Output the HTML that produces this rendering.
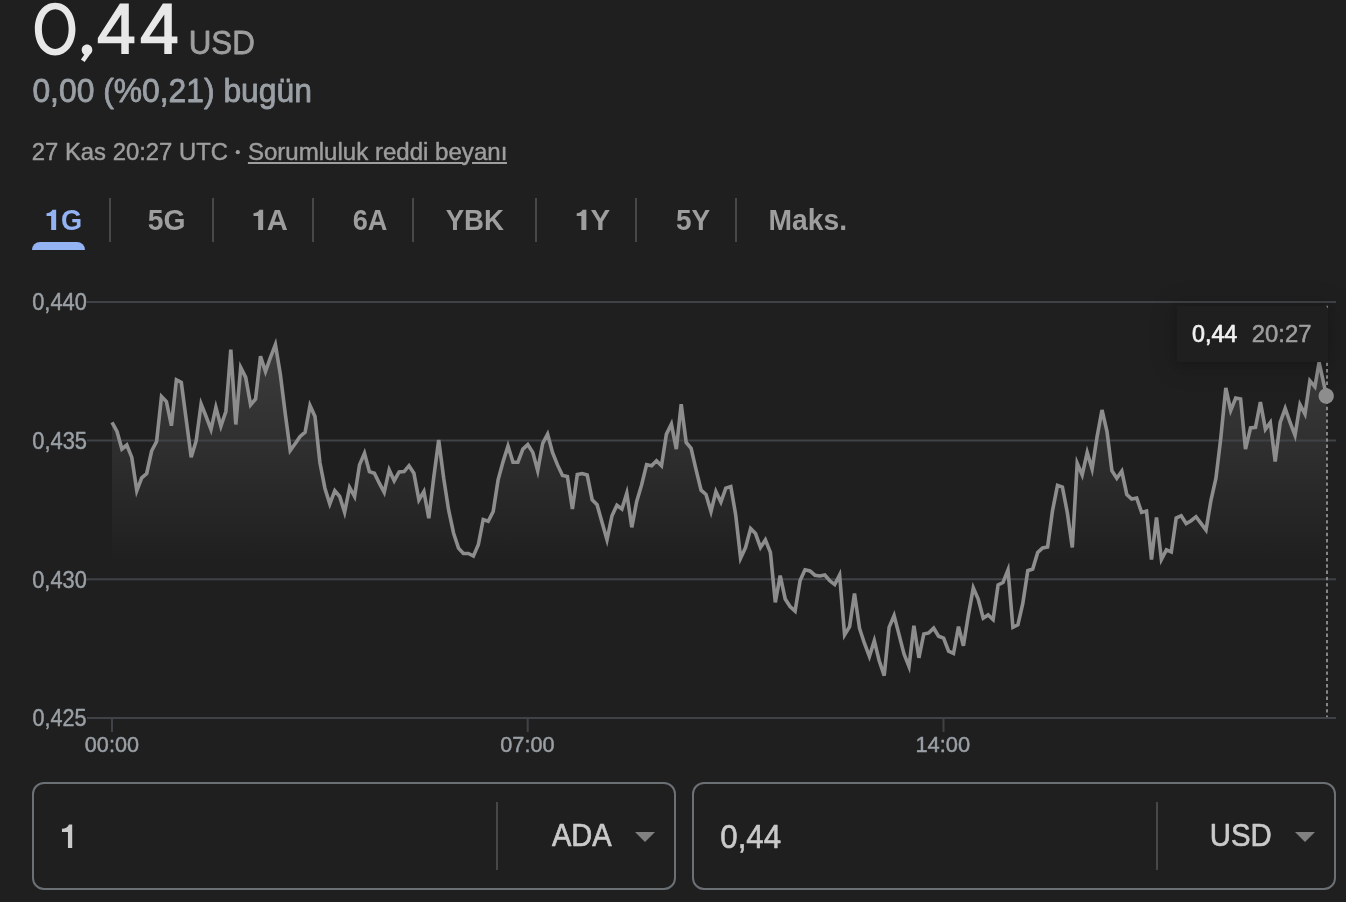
<!DOCTYPE html>
<html lang="tr">
<head>
<meta charset="utf-8">
<title>ADA / USD</title>
<style>
  html, body { margin: 0; padding: 0; }
  body {
    width: 1346px; height: 902px; overflow: hidden; position: relative;
    background: #1f1f1f; color: #9aa0a6;
    font-family: "Liberation Sans", sans-serif;
  }
  .sep { position: absolute; top: 198px; width: 2px; height: 44px; background: #484848; }
  #bar { position: absolute; left: 32px; top: 242px; width: 53px; height: 8px; background: #93b3f2; border-radius: 8px 8px 0 0; }
  #tip { position: absolute; left: 1176.5px; top: 306px; width: 151.5px; height: 55.8px; background: #1f1f1f; box-shadow: 0 2px 24px 5px rgba(0,0,0,0.14), 0 1px 7px 0 rgba(0,0,0,0.12); }
  .box { position: absolute; top: 782px; height: 104px; width: 640px; border: 2px solid #6b7075; border-radius: 12px; }
  .d { position: absolute; top: 802px; width: 2px; height: 68px; background: #484848; }
  .tri { position: absolute; top: 832px; width: 0; height: 0; border-left: 10px solid transparent; border-right: 10px solid transparent; border-top: 10.5px solid #808080; }
</style>
</head>
<body>
  <div id="bar"></div>
  <div class="sep" style="left:109px"></div><div class="sep" style="left:212px"></div><div class="sep" style="left:312px"></div><div class="sep" style="left:412px"></div><div class="sep" style="left:535px"></div><div class="sep" style="left:635px"></div><div class="sep" style="left:735px"></div>
  <svg id="chart" style="position:absolute;left:0;top:0" width="1346" height="902" viewBox="0 0 1346 902">
    <defs>
      <linearGradient id="g" x1="0" y1="340" x2="0" y2="565" gradientUnits="userSpaceOnUse">
        <stop offset="0" stop-color="#ffffff" stop-opacity="0.135"/>
        <stop offset="1" stop-color="#ffffff" stop-opacity="0"/>
      </linearGradient>
    </defs>
    <path d="M112.0 422.3 L117.0 431.5 L121.9 449.0 L126.8 445.0 L131.8 457.4 L136.8 490.7 L141.7 477.9 L146.7 473.5 L151.6 451.0 L156.6 441.5 L161.5 396.6 L166.4 401.6 L171.4 425.7 L176.4 379.9 L181.3 382.4 L186.2 419.5 L191.2 457.3 L196.2 440.7 L201.1 404.0 L206.1 416.5 L211.0 429.5 L215.9 407.4 L220.9 426.2 L225.9 411.5 L230.8 349.6 L235.8 424.5 L240.7 367.4 L245.7 377.4 L250.6 404.9 L255.6 399.0 L260.5 356.3 L265.5 371.6 L270.4 357.5 L275.4 344.6 L280.3 374.1 L285.2 413.2 L290.2 450.6 L295.1 443.7 L300.1 436.4 L305.1 432.2 L310.0 405.5 L315.0 416.5 L319.9 462.5 L324.9 488.2 L329.8 504.0 L334.8 490.7 L339.7 496.5 L344.6 512.3 L349.6 487.4 L354.6 496.5 L359.5 464.9 L364.5 453.3 L369.4 471.6 L374.4 473.2 L379.3 483.2 L384.2 492.4 L389.2 469.9 L394.2 480.7 L399.1 471.9 L404.1 471.6 L409.0 465.7 L413.9 473.2 L418.9 499.9 L423.9 491.5 L428.8 518.2 L433.8 477.0 L438.7 440.0 L443.7 478.2 L448.6 509.9 L453.6 533.2 L458.5 548.1 L463.4 553.5 L468.4 553.5 L473.4 556.1 L478.3 544.8 L483.2 519.5 L488.2 521.2 L493.2 511.5 L498.1 479.9 L503.1 461.6 L508.0 446.0 L513.0 462.2 L517.9 462.2 L522.9 449.1 L527.8 444.6 L532.8 452.4 L537.7 470.7 L542.7 443.3 L547.6 434.1 L552.5 452.4 L557.5 464.9 L562.5 475.4 L567.4 476.5 L572.4 509.0 L577.3 474.5 L582.2 473.5 L587.2 474.9 L592.2 499.8 L597.1 504.8 L602.0 522.3 L607.0 539.8 L612.0 515.7 L616.9 505.2 L621.9 509.0 L626.8 493.2 L631.8 527.3 L636.7 501.5 L641.6 484.9 L646.6 464.6 L651.6 465.7 L656.5 460.7 L661.5 465.7 L666.4 434.1 L671.4 424.1 L676.3 449.1 L681.2 404.2 L686.2 442.4 L691.1 448.3 L696.1 469.9 L701.1 490.2 L706.0 494.5 L711.0 511.5 L715.9 491.5 L720.9 502.0 L725.8 488.1 L730.8 486.5 L735.7 514.9 L740.6 558.2 L745.6 547.4 L750.6 528.6 L755.5 533.6 L760.5 547.4 L765.4 539.9 L770.4 552.4 L775.3 602.3 L780.2 575.7 L785.2 599.0 L790.1 606.5 L795.1 611.1 L800.1 580.5 L805.0 569.8 L810.0 571.0 L814.9 575.2 L819.9 576.0 L824.8 575.0 L829.8 580.8 L834.7 584.6 L839.6 575.0 L844.6 634.9 L849.6 626.6 L854.5 593.4 L859.5 628.2 L864.4 643.2 L869.4 656.5 L874.3 640.7 L879.2 660.7 L884.2 675.6 L889.1 627.4 L894.1 615.5 L899.1 634.9 L904.0 654.0 L909.0 666.5 L913.9 625.7 L918.9 657.8 L923.8 634.0 L928.8 632.9 L933.7 628.2 L938.6 636.2 L943.6 638.2 L948.6 651.2 L953.5 653.5 L958.5 626.6 L963.4 645.7 L968.4 614.9 L973.3 587.9 L978.2 599.1 L983.2 618.2 L988.1 614.9 L993.1 619.6 L998.1 584.9 L1003.0 582.5 L1008.0 570.0 L1012.9 627.3 L1017.9 624.8 L1022.8 603.5 L1027.8 570.7 L1032.7 569.0 L1037.7 552.4 L1042.6 547.9 L1047.6 546.9 L1052.5 510.8 L1057.5 485.3 L1062.4 487.0 L1067.3 512.5 L1072.3 547.4 L1077.2 463.2 L1082.2 474.9 L1087.2 452.4 L1092.1 469.0 L1097.1 436.6 L1102.0 410.0 L1107.0 431.6 L1111.9 470.7 L1116.8 478.2 L1121.8 471.2 L1126.8 494.5 L1131.7 499.0 L1136.7 498.0 L1141.6 512.4 L1146.5 511.0 L1151.5 559.5 L1156.5 517.4 L1161.4 559.5 L1166.4 549.9 L1171.3 551.9 L1176.2 518.0 L1181.2 515.7 L1186.2 523.5 L1191.1 520.7 L1196.0 516.7 L1201.0 523.3 L1206.0 530.0 L1210.9 500.5 L1215.9 478.5 L1220.8 438.0 L1225.8 388.0 L1230.7 410.5 L1235.7 398.0 L1240.6 399.0 L1245.5 449.0 L1250.5 428.0 L1255.5 427.4 L1260.4 402.0 L1265.4 429.2 L1270.3 422.4 L1275.2 461.5 L1280.2 422.5 L1285.2 408.4 L1290.1 422.5 L1295.0 435.3 L1300.0 404.6 L1305.0 414.1 L1309.9 380.7 L1314.9 386.8 L1319.1 362.3 L1326.5 396.0 L1326.5 718 L112 718 Z" fill="url(#g)" stroke="none"/>
    <g stroke="#3f4347" stroke-width="2">
      <line x1="87" y1="301.9" x2="1336" y2="301.9"/>
      <line x1="87" y1="440.6" x2="1336" y2="440.6"/>
      <line x1="87" y1="579.3" x2="1336" y2="579.3"/>
      <line x1="87" y1="718" x2="1336" y2="718"/>
      <line x1="112" y1="718" x2="112" y2="732"/>
      <line x1="527.7" y1="718" x2="527.7" y2="732"/>
      <line x1="943.5" y1="718" x2="943.5" y2="732"/>
    </g>
    <path d="M112.0 422.3 L117.0 431.5 L121.9 449.0 L126.8 445.0 L131.8 457.4 L136.8 490.7 L141.7 477.9 L146.7 473.5 L151.6 451.0 L156.6 441.5 L161.5 396.6 L166.4 401.6 L171.4 425.7 L176.4 379.9 L181.3 382.4 L186.2 419.5 L191.2 457.3 L196.2 440.7 L201.1 404.0 L206.1 416.5 L211.0 429.5 L215.9 407.4 L220.9 426.2 L225.9 411.5 L230.8 349.6 L235.8 424.5 L240.7 367.4 L245.7 377.4 L250.6 404.9 L255.6 399.0 L260.5 356.3 L265.5 371.6 L270.4 357.5 L275.4 344.6 L280.3 374.1 L285.2 413.2 L290.2 450.6 L295.1 443.7 L300.1 436.4 L305.1 432.2 L310.0 405.5 L315.0 416.5 L319.9 462.5 L324.9 488.2 L329.8 504.0 L334.8 490.7 L339.7 496.5 L344.6 512.3 L349.6 487.4 L354.6 496.5 L359.5 464.9 L364.5 453.3 L369.4 471.6 L374.4 473.2 L379.3 483.2 L384.2 492.4 L389.2 469.9 L394.2 480.7 L399.1 471.9 L404.1 471.6 L409.0 465.7 L413.9 473.2 L418.9 499.9 L423.9 491.5 L428.8 518.2 L433.8 477.0 L438.7 440.0 L443.7 478.2 L448.6 509.9 L453.6 533.2 L458.5 548.1 L463.4 553.5 L468.4 553.5 L473.4 556.1 L478.3 544.8 L483.2 519.5 L488.2 521.2 L493.2 511.5 L498.1 479.9 L503.1 461.6 L508.0 446.0 L513.0 462.2 L517.9 462.2 L522.9 449.1 L527.8 444.6 L532.8 452.4 L537.7 470.7 L542.7 443.3 L547.6 434.1 L552.5 452.4 L557.5 464.9 L562.5 475.4 L567.4 476.5 L572.4 509.0 L577.3 474.5 L582.2 473.5 L587.2 474.9 L592.2 499.8 L597.1 504.8 L602.0 522.3 L607.0 539.8 L612.0 515.7 L616.9 505.2 L621.9 509.0 L626.8 493.2 L631.8 527.3 L636.7 501.5 L641.6 484.9 L646.6 464.6 L651.6 465.7 L656.5 460.7 L661.5 465.7 L666.4 434.1 L671.4 424.1 L676.3 449.1 L681.2 404.2 L686.2 442.4 L691.1 448.3 L696.1 469.9 L701.1 490.2 L706.0 494.5 L711.0 511.5 L715.9 491.5 L720.9 502.0 L725.8 488.1 L730.8 486.5 L735.7 514.9 L740.6 558.2 L745.6 547.4 L750.6 528.6 L755.5 533.6 L760.5 547.4 L765.4 539.9 L770.4 552.4 L775.3 602.3 L780.2 575.7 L785.2 599.0 L790.1 606.5 L795.1 611.1 L800.1 580.5 L805.0 569.8 L810.0 571.0 L814.9 575.2 L819.9 576.0 L824.8 575.0 L829.8 580.8 L834.7 584.6 L839.6 575.0 L844.6 634.9 L849.6 626.6 L854.5 593.4 L859.5 628.2 L864.4 643.2 L869.4 656.5 L874.3 640.7 L879.2 660.7 L884.2 675.6 L889.1 627.4 L894.1 615.5 L899.1 634.9 L904.0 654.0 L909.0 666.5 L913.9 625.7 L918.9 657.8 L923.8 634.0 L928.8 632.9 L933.7 628.2 L938.6 636.2 L943.6 638.2 L948.6 651.2 L953.5 653.5 L958.5 626.6 L963.4 645.7 L968.4 614.9 L973.3 587.9 L978.2 599.1 L983.2 618.2 L988.1 614.9 L993.1 619.6 L998.1 584.9 L1003.0 582.5 L1008.0 570.0 L1012.9 627.3 L1017.9 624.8 L1022.8 603.5 L1027.8 570.7 L1032.7 569.0 L1037.7 552.4 L1042.6 547.9 L1047.6 546.9 L1052.5 510.8 L1057.5 485.3 L1062.4 487.0 L1067.3 512.5 L1072.3 547.4 L1077.2 463.2 L1082.2 474.9 L1087.2 452.4 L1092.1 469.0 L1097.1 436.6 L1102.0 410.0 L1107.0 431.6 L1111.9 470.7 L1116.8 478.2 L1121.8 471.2 L1126.8 494.5 L1131.7 499.0 L1136.7 498.0 L1141.6 512.4 L1146.5 511.0 L1151.5 559.5 L1156.5 517.4 L1161.4 559.5 L1166.4 549.9 L1171.3 551.9 L1176.2 518.0 L1181.2 515.7 L1186.2 523.5 L1191.1 520.7 L1196.0 516.7 L1201.0 523.3 L1206.0 530.0 L1210.9 500.5 L1215.9 478.5 L1220.8 438.0 L1225.8 388.0 L1230.7 410.5 L1235.7 398.0 L1240.6 399.0 L1245.5 449.0 L1250.5 428.0 L1255.5 427.4 L1260.4 402.0 L1265.4 429.2 L1270.3 422.4 L1275.2 461.5 L1280.2 422.5 L1285.2 408.4 L1290.1 422.5 L1295.0 435.3 L1300.0 404.6 L1305.0 414.1 L1309.9 380.7 L1314.9 386.8 L1319.1 362.3 L1326.5 396.0" fill="none" stroke="#8d8d8d" stroke-width="3.6" stroke-linejoin="miter" stroke-miterlimit="4.6" stroke-linecap="butt"/>
    <line x1="1327" y1="306" x2="1327" y2="717" stroke="#8c8c8c" stroke-width="1.9" stroke-dasharray="3.4 2.9"/>
    <circle cx="1326.2" cy="396" r="7.7" fill="#8d8d8d"/>
  </svg>
  <div id="tip"></div>
  <div class="box" style="left:32px"></div>
  <div class="box" style="left:692px"></div>
  <div class="d" style="left:496px"></div>
  <div class="d" style="left:1156px"></div>
  <div class="tri" style="left:635px"></div>
  <div class="tri" style="left:1295px"></div>
  <svg id="txt" style="position:absolute;left:0;top:0;will-change:transform" width="1346" height="902" viewBox="0 0 1346 902" font-family="Liberation Sans, sans-serif">
    <path fill="#e8e8e8" fill-rule="evenodd" d="M34.85 29.10 C34.85 13.79 43.38 2.70 55.15 2.70 C66.92 2.70 75.45 13.79 75.45 29.10 C75.45 44.41 66.92 55.50 55.15 55.50 C43.38 55.50 34.85 44.41 34.85 29.10Z M41.85 29.10 C41.85 17.62 47.48 9.30 55.25 9.30 C63.02 9.30 68.65 17.62 68.65 29.10 C68.65 40.58 63.02 48.90 55.25 48.90 C47.48 48.90 41.85 40.58 41.85 29.10Z"/>
  <path fill="#e8e8e8" fill-rule="nonzero" d="M81.70 49.90 C81.70 46.97 84.07 44.60 87.00 44.60 C89.93 44.60 92.30 46.97 92.30 49.90 C92.30 52.83 89.93 55.20 87.00 55.20 C84.07 55.20 81.70 52.83 81.70 49.90Z M92.1 51.4 L84.6 62.1 L80.9 59.5 L85.6 53.0Z"/>
  <path fill="#e8e8e8" fill-rule="evenodd" d="M119.90 3.50 L128.80 3.50 L128.80 36.60 L134.40 36.60 L134.40 43.30 L128.80 43.30 L128.80 54.10 L121.30 54.10 L121.30 43.30 L97.80 43.30 L97.80 37.90Z M121.30 14.40 L121.30 36.60 L106.30 36.60Z M162.90 3.50 L171.80 3.50 L171.80 36.60 L177.40 36.60 L177.40 43.30 L171.80 43.30 L171.80 54.10 L164.30 54.10 L164.30 43.30 L140.80 43.30 L140.80 37.90Z M164.30 14.40 L164.30 36.60 L149.30 36.60Z"/>
  <text transform="translate(188.70 53.70) scale(0.9519 1.0000)" font-size="32.90" fill="#9e9e9e" stroke="#9e9e9e" stroke-width="0.8" stroke-linejoin="round">USD</text>
  <text transform="translate(32.40 101.90) scale(0.9646 1.0000)" font-size="33.00" fill="#9aa0a6" stroke="#9aa0a6" stroke-width="0.8" stroke-linejoin="round">0,00 (%0,21) bugün</text>
  <text transform="translate(147.81 230.10) scale(0.9494 1.0000)" font-size="29.80" fill="#9e9e9e" font-weight="bold">5G</text>
  <text transform="translate(352.68 230.10) scale(0.9124 1.0000)" font-size="29.80" fill="#9e9e9e" font-weight="bold">6A</text>
  <text transform="translate(445.63 230.10) scale(0.9273 1.0000)" font-size="29.80" fill="#9e9e9e" font-weight="bold">YBK</text>
  <text transform="translate(676.03 230.10) scale(0.9388 1.0000)" font-size="29.80" fill="#9e9e9e" font-weight="bold">5Y</text>
  <text transform="translate(768.48 230.10) scale(0.9484 1.0000)" font-size="29.80" fill="#9e9e9e" font-weight="bold">Maks.</text>
  <text transform="translate(32.20 310.20) scale(0.9490 1.0000)" font-size="23.00" fill="#9aa0a6" stroke="#9aa0a6" stroke-width="0.45" stroke-linejoin="round">0,440</text>
  <text transform="translate(32.20 448.90) scale(0.9526 1.0000)" font-size="23.00" fill="#9aa0a6" stroke="#9aa0a6" stroke-width="0.45" stroke-linejoin="round">0,435</text>
  <text transform="translate(32.20 587.60) scale(0.9490 1.0000)" font-size="23.00" fill="#9aa0a6" stroke="#9aa0a6" stroke-width="0.45" stroke-linejoin="round">0,430</text>
  <text transform="translate(32.50 726.30) scale(0.9383 1.0000)" font-size="23.00" fill="#9aa0a6" stroke="#9aa0a6" stroke-width="0.45" stroke-linejoin="round">0,425</text>
  <text transform="translate(84.85 752.00) scale(1.0109 1.0000)" font-size="21.40" fill="#9aa0a6" stroke="#9aa0a6" stroke-width="0.45" stroke-linejoin="round">00:00</text>
  <text transform="translate(500.30 752.00) scale(1.0122 1.0000)" font-size="21.40" fill="#9aa0a6" stroke="#9aa0a6" stroke-width="0.45" stroke-linejoin="round">07:00</text>
  <text transform="translate(915.40 752.00) scale(1.0221 1.0000)" font-size="21.40" fill="#9aa0a6" stroke="#9aa0a6" stroke-width="0.45" stroke-linejoin="round">14:00</text>
  <text transform="translate(1192.00 342.00) scale(0.9782 1.0000)" font-size="23.80" fill="#f1f1f1" stroke="#f1f1f1" stroke-width="0.7" stroke-linejoin="round">0,44</text>
  <text transform="translate(1251.80 342.00) scale(1.0011 1.0000)" font-size="23.80" fill="#9e9e9e" stroke="#9e9e9e" stroke-width="0.55" stroke-linejoin="round">20:27</text>
  <text transform="translate(720.30 848.10) scale(0.9504 1.0000)" font-size="32.90" fill="#cacaca" stroke="#cacaca" stroke-width="0.6" stroke-linejoin="round">0,44</text>
  <text transform="translate(551.90 845.80) scale(0.9071 1.0000)" font-size="32.00" fill="#cacaca" stroke="#cacaca" stroke-width="0.7" stroke-linejoin="round">ADA</text>
  <text transform="translate(1209.80 845.80) scale(0.9166 1.0000)" font-size="32.00" fill="#cacaca" stroke="#cacaca" stroke-width="0.7" stroke-linejoin="round">USD</text>
  <text transform="translate(61.11 230.10) scale(0.9130 1.0000)" font-size="29.80" fill="#93b3f2" font-weight="bold">G</text>
  <text transform="translate(266.85 230.10) scale(0.9813 1.0000)" font-size="29.80" fill="#9e9e9e" font-weight="bold">A</text>
  <text transform="translate(590.58 230.10) scale(0.9908 1.0000)" font-size="29.80" fill="#9e9e9e" font-weight="bold">Y</text>
  <text transform="translate(31.82 159.65) scale(1.0019 1.0000)" font-size="23.80" fill="#9e9e9e" stroke="#9e9e9e" stroke-width="0.45" stroke-linejoin="round">27 Kas 20:27 UTC</text>
  <text transform="translate(247.93 159.65) scale(1.0112 1.0000)" font-size="23.80" fill="#9e9e9e" stroke="#9e9e9e" stroke-width="0.45" stroke-linejoin="round">Sorumluluk reddi beyanı</text>
  <path fill="#93b3f2" d="M56.16 209.8 L56.16 230.0 L51.16 230.0 L51.16 216.0 L46.51 216.0 L46.51 213.2 C49.06 213.2 51.36 212.0 52.41 209.8Z"/>
  <path fill="#9e9e9e" d="M263.16 209.8 L263.16 230.0 L258.16 230.0 L258.16 216.0 L253.51 216.0 L253.51 213.2 C256.06 213.2 258.36 212.0 259.41 209.8Z"/>
  <path fill="#9e9e9e" d="M586.36 209.8 L586.36 230.0 L581.36 230.0 L581.36 216.0 L576.71 216.0 L576.71 213.2 C579.26 213.2 581.56 212.0 582.61 209.8Z"/>
  <path fill="#cacaca" d="M72.2 824.4 L72.2 847.9 L67.95 847.9 L67.95 831.95 L61.95 831.95 L61.95 828.85 C65.3 828.7 67.7 827.3 69.0 824.4Z"/>
  <circle cx="237.8" cy="152.2" r="2.1" fill="#9e9e9e"/>
  <path d="M247.9 163.05 H463.4 M472 163.05 H507" stroke="#9e9e9e" stroke-width="1.9" fill="none"/>
  <path d="M1326.2 305.8 H1327.95 V308.6 Z" fill="#8c8c8c"/>
  </svg>
</body>
</html>
